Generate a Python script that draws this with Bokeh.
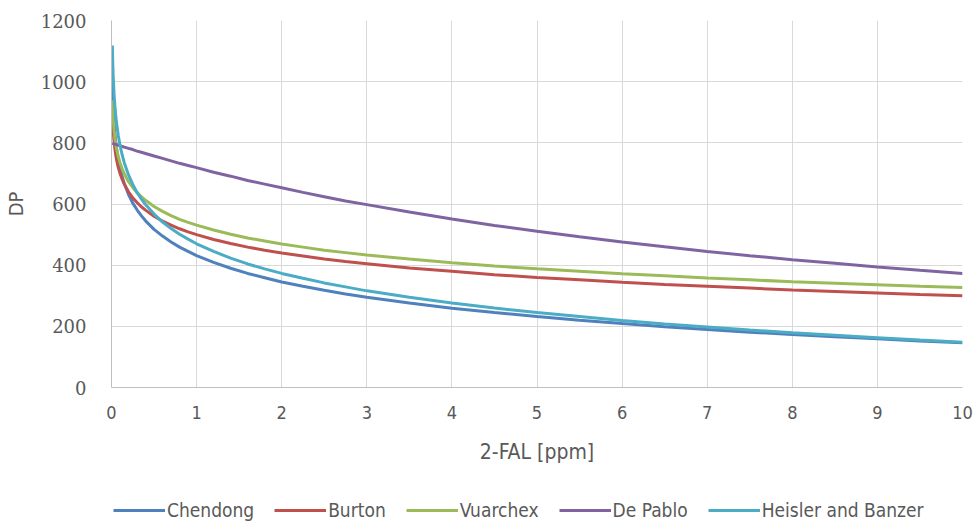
from bokeh.plotting import figure
from bokeh.models import Range1d, FixedTicker, Legend, LegendItem
from bokeh.layouts import column
from bokeh.embed import file_html
from bokeh.resources import INLINE

fal = [0.01, 0.015, 0.02, 0.03, 0.04, 0.05, 0.06, 0.08, 0.1, 0.125, 0.15, 0.2, 0.25,
       0.3, 0.35, 0.4, 0.5, 0.6, 0.7, 0.8, 0.9, 1, 1.2, 1.4, 1.6, 1.8, 2, 2.25, 2.5,
       2.75, 3, 3.5, 4, 4.5, 5, 5.5, 6, 6.5, 7, 7.5, 8, 8.5, 9, 9.5, 10]
chendong = [1003, 953, 917, 867, 831, 803, 781, 745, 717, 689, 667, 631, 603,
            581, 562, 545, 517, 495, 476, 459, 445, 431, 409, 390, 373, 359, 345, 331, 318,
            306, 295, 276, 259, 245, 232, 220, 209, 199, 190, 181, 173, 166, 159, 152, 146]
burton = [900, 865, 840, 805, 780, 760, 744, 719, 700, 681, 665, 640, 620,
          605, 591, 580, 560, 544, 531, 519, 509, 500, 484, 471, 459, 449, 440, 430, 420,
          412, 405, 391, 380, 369, 360, 352, 344, 337, 331, 325, 319, 314, 309, 304, 300]
vuarchex = [939, 903, 877, 841, 816, 796, 780, 755, 735, 715, 699, 673, 654,
            637, 624, 612, 592, 576, 562, 550, 540, 531, 515, 501, 489, 479, 469, 459, 449,
            441, 433, 420, 408, 397, 388, 380, 372, 365, 358, 352, 346, 341, 336, 331, 327]
de_pablo = [799, 798, 798, 797, 796, 795, 794, 792, 791, 788, 786, 782, 778,
            773, 769, 765, 757, 749, 741, 733, 726, 719, 704, 691, 677, 665, 653, 638, 624,
            610, 598, 574, 551, 530, 511, 493, 476, 460, 445, 431, 418, 406, 394, 383, 373]
heisler = [1118, 1057, 1017, 960, 920, 889, 863, 823, 792, 761, 735, 695, 664,
           638, 617, 598, 567, 541, 520, 501, 485, 470, 445, 423, 404, 388, 373, 357, 342,
           329, 316, 295, 276, 260, 245, 232, 219, 208, 198, 188, 179, 171, 163, 155, 148]

series_names = ["Chendong", "Burton", "Vuarchex", "De Pablo", "Heisler and Banzer"]
series_values = [chendong, burton, vuarchex, de_pablo, heisler]
colors = ["#4F81BD", "#C0504D", "#9BBB59", "#8064A2", "#4BACC6"]

x_ticks = list(range(0, 11))
y_ticks = [0, 200, 400, 600, 800, 1000, 1200]

SANS = "DejaVu Sans Condensed"
TXT = "#595959"

p = figure(frame_width=851, frame_height=367, output_backend="svg", toolbar_location=None,
           x_range=Range1d(0, 10), y_range=Range1d(0, 1200),
           min_border_left=104, min_border_right=15, min_border_top=20,
           min_border_bottom=100)
p.outline_line_color = None
p.background_fill_color = "white"

for name, vals, col in zip(series_names, series_values, colors):
    p.line(fal, vals, line_color=col, line_width=3)

p.xaxis.ticker = FixedTicker(ticks=x_ticks)
p.yaxis.ticker = FixedTicker(ticks=y_ticks)
p.xgrid.ticker = FixedTicker(ticks=x_ticks)
p.ygrid.ticker = FixedTicker(ticks=y_ticks)
p.xgrid.grid_line_color = "#D9D9D9"
p.ygrid.grid_line_color = "#D9D9D9"
p.xgrid.grid_line_width = 1
p.ygrid.grid_line_width = 1

for ax in (p.xaxis, p.yaxis):
    ax.major_tick_line_color = None
    ax.minor_tick_line_color = None
    ax.axis_line_color = "#BFBFBF"
    ax.major_label_text_color = TXT
    ax.axis_label_text_color = TXT
    ax.axis_label_text_font_style = "normal"

p.xaxis.axis_label = "2-FAL [ppm]"
p.xaxis.major_label_text_font = SANS
p.xaxis.major_label_text_font_size = "18px"
p.xaxis.major_label_standoff = 12
p.xaxis.axis_label_text_font = SANS
p.xaxis.axis_label_text_font_size = "21px"
p.xaxis.axis_label_standoff = 18

p.yaxis.axis_label = "DP"
p.yaxis.major_label_text_font = "DejaVu Serif"
p.yaxis.major_label_text_font_size = "18px"
p.yaxis.major_label_standoff = 19
p.yaxis.axis_label_text_font = SANS
p.yaxis.axis_label_text_font_size = "20px"
p.yaxis.axis_label_standoff = 10

# legend strip below the chart (same series, drawn outside its visible range)
lf = figure(width=970, height=38, output_backend="svg", toolbar_location=None,
            x_range=Range1d(100, 101), y_range=Range1d(0, 1),
            x_axis_location=None, y_axis_location=None,
            min_border=0)
lf.outline_line_color = None
lf.grid.visible = False
leg_renderers = []
for name, vals, col in zip(series_names, series_values, colors):
    leg_renderers.append(lf.line(fal, vals, line_color=col, line_width=3))

legend = Legend(items=[LegendItem(label=n, renderers=[r]) for n, r in zip(series_names, leg_renderers)],
                orientation="horizontal", location=(2, 4),
                label_text_font=SANS, label_text_font_size="19px", label_text_color=TXT,
                glyph_width=52, glyph_height=20, label_standoff=2, spacing=20,
                border_line_color=None, background_fill_alpha=0,
                padding=0, margin=0)
lf.add_layout(legend, "center")

layout = column(p, lf, spacing=0)
open("out.html", "w").write(file_html(layout, INLINE))
